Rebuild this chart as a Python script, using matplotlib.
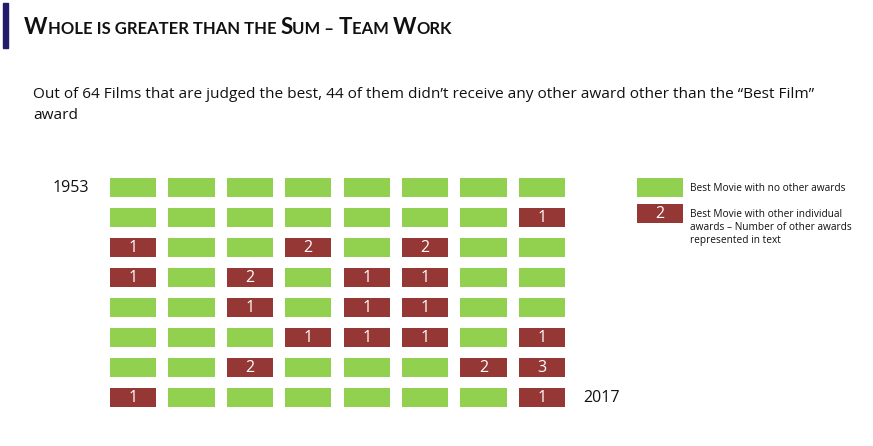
import matplotlib
matplotlib.use("Agg")
import matplotlib.pyplot as plt
from matplotlib.patches import Rectangle
from matplotlib.offsetbox import TextArea, HPacker, AnchoredOffsetbox
import numpy as np

# other awards won by each best film, 1953 (top left) to 2017 (bottom right)
awards = [
    [0, 0, 0, 0, 0, 0, 0, 0],
    [0, 0, 0, 0, 0, 0, 0, 1],
    [1, 0, 0, 2, 0, 2, 0, 0],
    [1, 0, 2, 0, 1, 1, 0, 0],
    [0, 0, 1, 0, 1, 1, 0, 0],
    [0, 0, 0, 1, 1, 1, 0, 1],
    [0, 0, 2, 0, 0, 0, 2, 3],
    [1, 0, 0, 0, 0, 0, 0, 1],
]
first_year = "1953"
last_year = "2017"
title_parts = [("W", True), ("HOLE IS GREATER THAN THE ", False), ("S", True),
               ("UM \u2013 ", False), ("T", True), ("EAM ", False), ("W", True), ("ORK", False)]
subtitle = ("Out of 64 Films that are judged the best, 44 of them didn\u2019t receive any other "
            "award other than the \u201cBest Film\u201d\naward")
legend_labels = ["Best Movie with no other awards",
                 "Best Movie with other individual\nawards \u2013 Number of other awards\nrepresented in text"]

green = "#92D050"
red = "#953735"
font = "Open Sans"

W, H = 873, 446
fig = plt.figure(figsize=(W / 100, H / 100), dpi=100)

def fx(px):
    return px / W

def fy(py):
    return 1 - py / H

# title bar
fig.patches.append(Rectangle((fx(3), fy(48)), fx(5), 45 / H, transform=fig.transFigure,
                             color="#211B6E", zorder=1))
boxes = [TextArea(t, textprops=dict(fontsize=16.1 if big else 12, fontweight="bold",
                                    family="Lato", color="#111111"))
         for t, big in title_parts]
pack = HPacker(children=boxes, align="baseline", pad=0, sep=0)
ab = AnchoredOffsetbox(loc="center left", child=pack, frameon=False,
                       bbox_to_anchor=(fx(24), fy(27)), bbox_transform=fig.transFigure,
                       borderpad=0, pad=0)
fig.add_artist(ab)

fig.text(fx(33), fy(105), subtitle, fontsize=11.1, family=font, color="#111111",
         va="center", ha="left", linespacing=1.55)

# grid axes
nrows, ncols = len(awards), len(awards[0])
ax = fig.add_axes([fx(103.8), fy(412.5), 467.4 / W, 240 / H])
ax.set_xlim(-0.5, ncols - 0.5)
ax.set_ylim(nrows - 0.5, -0.5)
ax.axis("off")

bw, bh = 0.79, 0.63
vals = np.array(awards)
for r in range(nrows):
    for c in range(ncols):
        v = vals[r, c]
        ax.add_patch(Rectangle((c - bw / 2, r - bh / 2), bw, bh,
                               color=red if v else green, lw=0))
        if v:
            ax.text(c, r + 0.02, str(v), color="white", fontsize=11.5, family=font,
                    ha="center", va="center")

ax.text(-0.76, 0, first_year, fontsize=11.5, family=font, ha="right", va="center", color="#111111")
ax.text(ncols - 0.5 + 0.2, nrows - 1, last_year, fontsize=11.5, family=font, ha="left",
        va="center", color="#111111")

# legend
lx = 9.02
leg_rows = [0, 0.867]
for i, (lbl, col) in enumerate(zip(legend_labels, [green, red])):
    y = leg_rows[i]
    ax.add_patch(Rectangle((lx - bw / 2, y - bh / 2), bw, bh, color=col, lw=0, clip_on=False))
    if i == 1:
        ax.text(lx, y + 0.02, "2", color="white", fontsize=11.5, family=font,
                ha="center", va="center", clip_on=False)
    ax.text(lx + bw / 2 + 0.12, y - 0.15, lbl, fontsize=7.3, family=font, ha="left",
            va="top", color="#111111", linespacing=1.28)

fig.savefig("out.png", dpi=100)
